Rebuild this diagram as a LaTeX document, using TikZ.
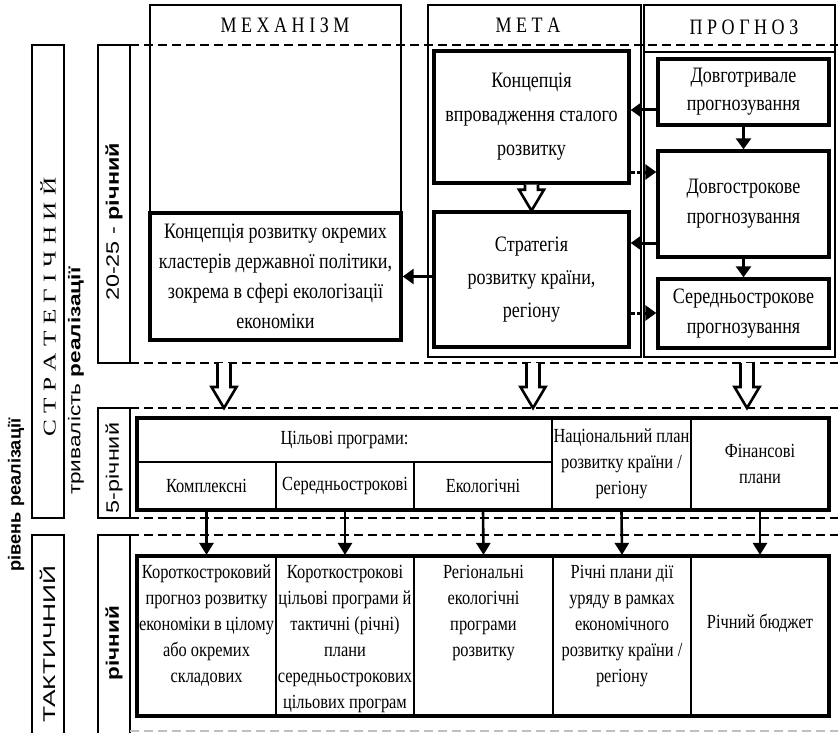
\documentclass[tikz,border=0pt]{standalone}
\usepackage{fontspec}
\setmainfont[FakeStretch=0.82]{Liberation Serif}
\newfontfamily\plainserif{Liberation Serif}
\newfontfamily\plainsans{Liberation Sans}
\usepackage{graphicx}
\usetikzlibrary{arrows.meta,positioning,calc}

\tikzset{
  frame line/.style={line width=1.2pt},
  level line/.style={line width=1.2pt, dash pattern=on 9pt off 5pt},
  bold box/.style={draw, line width=3.4pt, inner sep=0pt, align=center},
  cell/.style={draw, line width=2.2pt, inner sep=0pt, align=center, font=\fontsize{20}{26}\selectfont},
  celltext/.style={inner sep=0pt, align=center, font=\fontsize{20}{26}\selectfont},
  arr/.style={line width=3pt, -{Triangle[length=11pt,width=15pt]}},
  dot arr/.style={arr, dash pattern=on 4pt off 2.5pt},
  down arr/.style={line width=2.6pt, -{Triangle[length=12pt,width=14pt]}},
  pics/hollow/.style={code={
    \draw[line width=2.6pt, fill=white] (-6.5,0) -- (-6.5,#1-21) -- (-12.5,#1-21)
      -- (0,#1) -- (12.5,#1-21) -- (6.5,#1-21) -- (6.5,0);}}
}

\begin{document}
\begin{tikzpicture}[x=1pt, y=-1pt]
\useasboundingbox[fill=white] (0,0) rectangle (838,733);

% levels and terms
\draw[frame line] (32,45) rectangle (64,518);
\draw[frame line] (32,535) rectangle (64,745);
\draw[frame line] (98,45) rectangle (130,363);
\draw[frame line] (98,408) rectangle (130,518);
\draw[frame line] (98,535) rectangle (130,745);
\foreach \y in {45,363,408,518,535}
  \draw[level line] (130,\y) -- (838,\y);
\draw[level line, gray!50] (130,731) -- (838,731);

\node[rotate=90] (strlvl) at (48,307) {\scalebox{1.4}[1]{\fontsize{18}{18}\plainserif С Т Р А Т Е Г І Ч Н И Й}};
\node[rotate=90] (taklvl) at (48,644) {\scalebox{1.55}[1]{\fontsize{17}{17}\plainsans ТАКТИЧНИЙ}};
\node[rotate=90] (term1) at (114,222) {\scalebox{1.3}[1]{\fontsize{18}{18}\plainsans 20-25 - \textbf{річний}}};
\node[rotate=90] (term2) at (114,468) {\scalebox{1.3}[1]{\fontsize{18}{18}\plainsans 5-річний}};
\node[rotate=90] (term3) at (114,643) {\scalebox{1.25}[1]{\fontsize{18}{18}\plainsans\bfseries річний}};
\node[rotate=90] (termlbl) at (76,381) {\scalebox{1.33}[1]{\fontsize{17}{17}\plainsans тривалість \textbf{реалізації}}};
\node[rotate=90] (lvllbl) at (16,495) {\scalebox{1.04}[1]{\fontsize{17.5}{17.5}\plainsans\bfseries рівень реалізації}};

% columns
\draw[frame line] (150,213) -- (150,5) -- (401,5) -- (401,213);
\draw[frame line] (428,5) rectangle (641,357);
\draw[frame line] (644,5) rectangle (835,357);
\draw[frame line] (644,52) -- (835,52);
\node (hmech) at (285,25) {\fontsize{22}{22}\selectfont М Е Х А Н І З М};
\node (hmeta) at (528,25) {\fontsize{22}{22}\selectfont М Е Т А};
\node (hprog) at (744,27) {\fontsize{22}{22}\selectfont П Р О Г Н О З};

\node[bold box, minimum width=251pt, minimum height=127pt, font=\fontsize{22}{30}\selectfont] (kclust) at (275.5,276.5)
  {Концепція розвитку окремих\\кластерів державної політики,\\зокрема в сфері екологізації\\економіки};
\node[bold box, minimum width=195pt, minimum height=132pt, font=\fontsize{22}{34}\selectfont] (kstal) at (531.5,117)
  {Концепція\\впровадження сталого\\розвитку};
\node[bold box, minimum width=195pt, minimum height=135pt, font=\fontsize{22}{33}\selectfont] (strat) at (531.5,279.5)
  {Стратегія\\розвитку країни,\\регіону};
\node[bold box, minimum width=171pt, minimum height=66pt, font=\fontsize{22}{28}\selectfont] (dovgotr) at (743.5,92)
  {Довготривале\\прогнозування};
\node[bold box, minimum width=171pt, minimum height=106pt, font=\fontsize{22}{30}\selectfont] (dovgostr) at (743.5,204)
  {Довгострокове\\прогнозування};
\node[bold box, minimum width=171pt, minimum height=69pt, font=\fontsize{22}{30}\selectfont] (seredn) at (743.5,313.5)
  {Середньострокове\\прогнозування};

\coordinate (y1) at (650,110);
\coordinate (y2) at (650,172);
\coordinate (y3) at (650,243);
\coordinate (y4) at (650,313);
\draw[arr] (y1 -| dovgotr.west) -- (y1 -| kstal.east);
\draw[dot arr] (y2 -| kstal.east) -- (y2 -| dovgostr.west);
\draw[arr] (y3 -| dovgostr.west) -- (y3 -| strat.east);
\draw[dot arr] (y4 -| strat.east) -- (y4 -| seredn.west);
\draw[arr] (dovgotr.south) -- (dovgostr.north);
\draw[arr] (dovgostr.south) -- (seredn.north);
\draw[arr] (strat.west |- kclust.east) -- (kclust.east);
\pic at (kstal.south) {hollow=26};

\coordinate (g1) at (224,363);
\coordinate (g2) at (533,363);
\coordinate (g3) at (747,363);
\foreach \g in {g1,g2,g3}
  \pic at (\g) {hollow=45};

% five-year plans
\node[cell, minimum width=415pt, minimum height=44pt] (goal) at (344.5,440) {Цільові програми:};
\node[cell, minimum width=139pt, minimum height=48pt] (kompl) at (206.5,486) {Комплексні};
\node[cell, minimum width=138pt, minimum height=48pt] (serp) at (345,486) {Середньострокові};
\node[cell, minimum width=138pt, minimum height=48pt] (ekop) at (483,486) {Екологічні};
\node[cell, minimum width=139pt, minimum height=92pt] (natplan) at (621.5,464) {Національний план\\розвитку країни /\\регіону};
\node[cell, minimum width=138pt, minimum height=92pt] (finplan) at (760,464) {Фінансові\\плани};
\draw[line width=3.2pt] (137,418) rectangle (829,510);

% annual plans
\node[cell, minimum width=139pt, minimum height=160pt] (r1) at (206.5,636) {};
\node[cell, minimum width=138pt, minimum height=160pt] (r2) at (345,636) {};
\node[cell, minimum width=139pt, minimum height=160pt] (r3) at (483.5,636) {};
\node[cell, minimum width=138pt, minimum height=160pt] (r4) at (622,636) {};
\node[cell, minimum width=138pt, minimum height=160pt] (r5) at (760,636) {};
\draw[line width=3.2pt] (137,556) rectangle (829,716);
\node[celltext, below=10pt of r1.north] (t1) {Короткостроковий\\прогноз розвитку\\економіки в цілому\\або окремих\\складових};
\node[celltext, below=10pt of r2.north] (t2) {Короткострокові\\цільові програми й\\тактичні (річні)\\плани\\середньострокових\\цільових програм};
\node[celltext, below=10pt of r3.north] (t3) {Регіональні\\екологічні\\програми\\розвитку};
\node[celltext, below=10pt of r4.north] (t4) {Річні плани дії\\уряду в рамках\\економічного\\розвитку країни /\\регіону};
\node[celltext] (t5) at ([yshift=13pt]r5.center) {Річний бюджет};

\draw[down arr] (kompl.south) -- (r1.north);
\draw[down arr] (serp.south) -- (r2.north);
\draw[down arr] (ekop.south) -- (r3.north);
\draw[down arr] (natplan.south) -- (r4.north);
\draw[down arr] (finplan.south) -- (r5.north);
\end{tikzpicture}
\end{document}
